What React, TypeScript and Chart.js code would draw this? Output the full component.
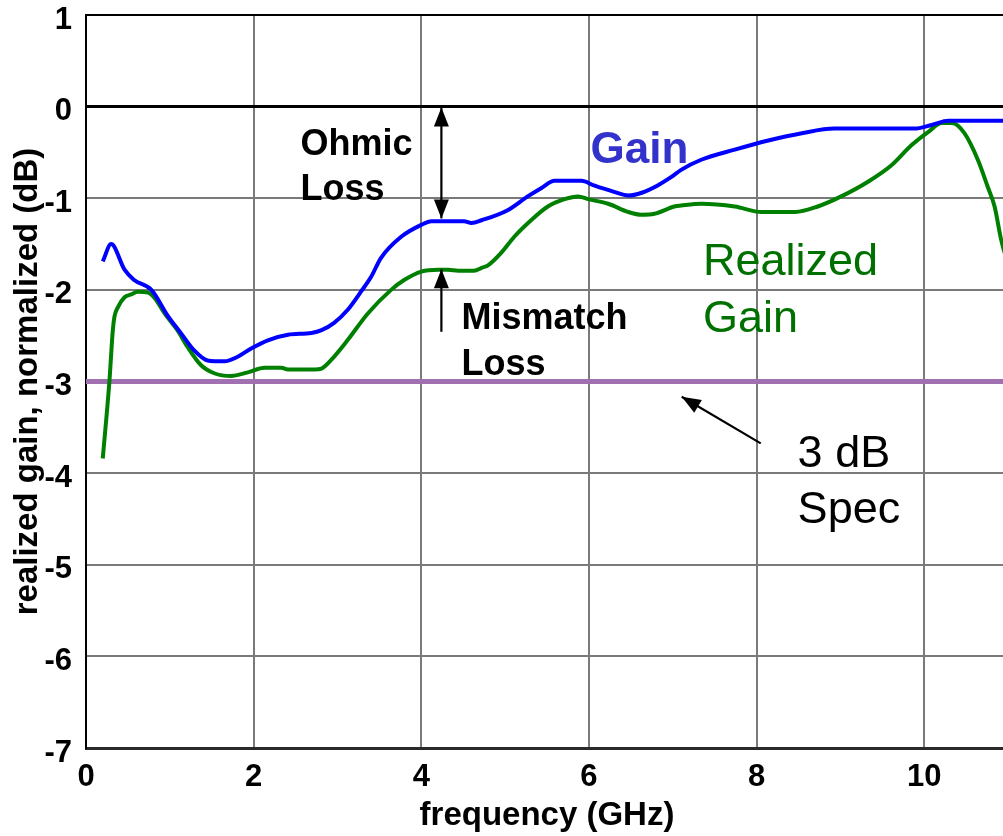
import React, { useEffect, useRef } from "react";
import { Chart, registerables } from "chart.js";

Chart.register(...registerables);

// ---- data ----
const gainFreq = [0.2, 0.3, 0.46, 0.57, 0.78, 0.98, 1.13, 1.29, 1.45, 1.65, 1.81, 1.97, 2.17, 2.41, 2.69, 2.81, 2.96, 3.12, 3.28, 3.4, 3.52, 3.76, 4.0, 4.12, 4.51, 4.6, 4.72, 5.03, 5.27, 5.43, 5.59, 5.91, 6.06, 6.3, 6.47, 6.63, 6.82, 6.98, 7.1, 7.34, 7.74, 8.14, 8.54, 8.93, 9.88, 10.09, 10.29, 11.0];
const gainDb = [-1.69, -1.5, -1.78, -1.89, -2.0, -2.29, -2.47, -2.66, -2.77, -2.78, -2.73, -2.64, -2.55, -2.49, -2.47, -2.44, -2.36, -2.22, -2.02, -1.86, -1.65, -1.42, -1.29, -1.25, -1.25, -1.27, -1.24, -1.13, -0.98, -0.89, -0.81, -0.81, -0.86, -0.93, -0.97, -0.94, -0.86, -0.77, -0.69, -0.58, -0.47, -0.37, -0.29, -0.24, -0.24, -0.2, -0.155, -0.155];

const realizedFreq = [0.2, 0.28, 0.32, 0.34, 0.38, 0.46, 0.54, 0.62, 0.74, 0.82, 0.94, 1.09, 1.21, 1.37, 1.53, 1.73, 1.93, 2.13, 2.33, 2.41, 2.73, 2.81, 2.92, 3.12, 3.36, 3.64, 3.8, 4.0, 4.2, 4.32, 4.44, 4.63, 4.72, 4.8, 4.95, 5.11, 5.31, 5.51, 5.71, 5.87, 5.99, 6.23, 6.47, 6.63, 6.78, 7.02, 7.1, 7.34, 7.74, 8.06, 8.46, 8.73, 9.01, 9.33, 9.61, 9.85, 10.05, 10.21, 10.33, 10.48, 10.64, 10.76, 10.84, 10.92, 11.0];
const realizedDb = [-3.84, -2.99, -2.44, -2.29, -2.19, -2.08, -2.05, -2.02, -2.03, -2.09, -2.26, -2.44, -2.62, -2.82, -2.91, -2.94, -2.9, -2.85, -2.85, -2.87, -2.87, -2.86, -2.77, -2.55, -2.26, -2.0, -1.89, -1.8, -1.78, -1.78, -1.79, -1.79, -1.76, -1.73, -1.6, -1.42, -1.24, -1.09, -1.01, -0.98, -1.01, -1.06, -1.15, -1.18, -1.17, -1.09, -1.08, -1.06, -1.09, -1.15, -1.15, -1.09, -0.98, -0.82, -0.64, -0.42, -0.275, -0.18, -0.18, -0.29, -0.58, -0.88, -1.09, -1.46, -1.72];

const specFreq = [0, 11];
const specDb = [-3, -3];

const xTicks = [0, 2, 4, 6, 8, 10];
const yTicks = [1, 0, -1, -2, -3, -4, -5, -6, -7];

const xTitle = "frequency (GHz)";
const yTitle = "realized gain, normalized (dB)";

// annotation texts (position in data units: left x, baseline y per line)
const noteTexts = [
  { lines: ["Ohmic", "Loss"], x: 2.56, y: [-0.528, -1.019], color: "#000000", weight: "bold", size: 36 },
  { lines: ["Mismatch", "Loss"], x: 4.48, y: [-2.427, -2.93], color: "#000000", weight: "bold", size: 36 },
  { lines: ["Gain"], x: 6.02, y: [-0.619], color: "#3333cc", weight: "bold", size: 44 },
  { lines: ["Realized", "Gain"], x: 7.36, y: [-1.838, -2.457], color: "#007000", weight: "normal", size: 45 },
  { lines: ["3 dB", "Spec"], x: 8.49, y: [-3.937, -4.548], color: "#000000", weight: "normal", size: 45 },
];

// arrows: from (x1,y1) to (x2,y2); heads at end, optionally at start
const noteArrows = [
  { x1: 4.24, y1: -1.22, x2: 4.24, y2: -0.01, both: true },
  { x1: 4.24, y1: -2.457, x2: 4.24, y2: -1.776, both: false },
  { x1: 8.05, y1: -3.675, x2: 7.107, y2: -3.166, both: false },
];

const FONT = "'Liberation Sans', Arial, Helvetica, sans-serif";

function drawHead(ctx: CanvasRenderingContext2D, tx: number, ty: number, fx: number, fy: number) {
  const len = 19;
  const half = 7.5;
  const ang = Math.atan2(ty - fy, tx - fx);
  const bx = tx - len * Math.cos(ang);
  const by = ty - len * Math.sin(ang);
  ctx.beginPath();
  ctx.moveTo(tx, ty);
  ctx.lineTo(bx + half * Math.sin(ang), by - half * Math.cos(ang));
  ctx.lineTo(bx - half * Math.sin(ang), by + half * Math.cos(ang));
  ctx.closePath();
  ctx.fill();
}

const notesPlugin = {
  id: "notes",
  afterDatasetsDraw(chart: any) {
    const { ctx } = chart;
    const xs = chart.scales.x;
    const ys = chart.scales.y;
    ctx.save();
    ctx.strokeStyle = "#000000";
    ctx.fillStyle = "#000000";
    ctx.lineWidth = 2.2;
    for (const a of noteArrows) {
      const px1 = xs.getPixelForValue(a.x1);
      const py1 = ys.getPixelForValue(a.y1);
      const px2 = xs.getPixelForValue(a.x2);
      const py2 = ys.getPixelForValue(a.y2);
      ctx.beginPath();
      ctx.moveTo(px1, py1);
      ctx.lineTo(px2, py2);
      ctx.stroke();
      drawHead(ctx, px2, py2, px1, py1);
      if (a.both) drawHead(ctx, px1, py1, px2, py2);
    }
    ctx.textAlign = "left";
    ctx.textBaseline = "alphabetic";
    for (const t of noteTexts) {
      ctx.font = `${t.weight} ${t.size}px ${FONT}`;
      ctx.fillStyle = t.color;
      t.lines.forEach((line, i) => {
        ctx.fillText(line, xs.getPixelForValue(t.x), ys.getPixelForValue(t.y[i]));
      });
    }
    ctx.restore();
  },
};

export default function App() {
  const canvasRef = useRef<HTMLCanvasElement | null>(null);

  useEffect(() => {
    document.body.style.margin = "0";
    document.body.style.overflow = "hidden";
    const canvas = canvasRef.current;
    if (!canvas) return;
    const tickFont = { family: FONT, size: 31, weight: "bold" as const };
    const titleFont = { family: FONT, size: 33, weight: "bold" as const };
    const chart = new Chart(canvas, {
      type: "line",
      data: {
        datasets: [
          {
            label: "Gain",
            data: gainFreq.map((f, i) => ({ x: f, y: gainDb[i] })),
            borderColor: "#0000ff",
            borderWidth: 4,
            pointRadius: 0,
            fill: false,
            cubicInterpolationMode: "monotone",
          },
          {
            label: "Realized Gain",
            data: realizedFreq.map((f, i) => ({ x: f, y: realizedDb[i] })),
            borderColor: "#008000",
            borderWidth: 4,
            pointRadius: 0,
            fill: false,
            cubicInterpolationMode: "monotone",
          },
          {
            label: "3 dB Spec",
            data: specFreq.map((f, i) => ({ x: f, y: specDb[i] })),
            borderColor: "#a070b0",
            borderWidth: 5,
            pointRadius: 0,
            fill: false,
          },
        ],
      },
      options: {
        responsive: false,
        animation: false,
        layout: { padding: 0 },
        plugins: { legend: { display: false }, tooltip: { enabled: false } },
        scales: {
          x: {
            type: "linear",
            min: 0,
            max: 11,
            afterBuildTicks: (s: any) => {
              s.ticks = xTicks.map((v) => ({ value: v }));
            },
            afterFit: (s: any) => {
              s.height = 88;
              s.paddingLeft = 0;
              s.paddingRight = 0;
            },
            ticks: { font: tickFont, color: "#000000", padding: 11, maxRotation: 0, autoSkip: false },
            grid: {
              drawTicks: false,
              color: (c: any) => (c.tick && c.tick.value === 0 ? "#000000" : "#7a7a7a"),
              lineWidth: 2,
            },
            border: { color: "#2a2a2a", width: 3 },
            title: { display: true, text: xTitle, font: titleFont, color: "#000000", padding: { top: 0, bottom: 0 } },
          },
          y: {
            type: "linear",
            min: -7,
            max: 1,
            afterBuildTicks: (s: any) => {
              s.ticks = yTicks.map((v) => ({ value: v }));
            },
            afterFit: (s: any) => {
              s.width = 86;
              s.paddingTop = 15;
              s.paddingBottom = 0;
            },
            ticks: { font: tickFont, color: "#000000", padding: 14, labelOffset: 5, autoSkip: false },
            grid: {
              drawTicks: false,
              color: (c: any) => {
                const v = c.tick ? c.tick.value : null;
                if (v === 0 || v === 1) return "#000000";
                if (v === -7) return "#2a2a2a";
                return "#7a7a7a";
              },
              lineWidth: (c: any) => {
                const v = c.tick ? c.tick.value : null;
                if (v === 0 || v === -7) return 3;
                return 2;
              },
            },
            border: { color: "#000000", width: 2 },
            title: { display: true, text: yTitle, font: titleFont, color: "#000000", padding: { top: 8, bottom: 0 } },
          },
        },
      },
      plugins: [notesPlugin],
    } as any);
    return () => {
      chart.destroy();
    };
  }, []);

  return (
    <div
      style={{
        position: "fixed",
        left: 0,
        top: 0,
        width: 1003,
        height: 836,
        overflow: "hidden",
        background: "#ffffff",
      }}
    >
      <canvas ref={canvasRef} width={1008} height={836} style={{ width: 1008, height: 836, display: "block" }} />
    </div>
  );
}
